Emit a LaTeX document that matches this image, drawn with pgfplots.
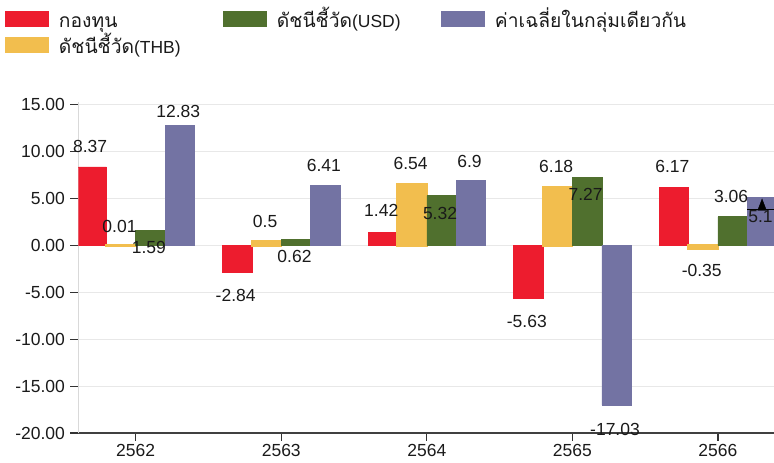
\documentclass[border=0pt]{standalone}
\usepackage{fontspec}
\setmainfont{Liberation Sans}
\newfontfamily\thai[Script=Thai, Scale=1.1]{Loma}
\usepackage{pgfplots}
\pgfplotsset{compat=1.18}
\usepackage{pgfplotstable}
\definecolor{cRed}{HTML}{ED1C2E}
\definecolor{cYel}{HTML}{F2BE4E}
\definecolor{cGrn}{HTML}{50702E}
\definecolor{cPur}{HTML}{7373A3}
\definecolor{txt}{HTML}{1A1A1A}
\definecolor{gridc}{HTML}{E8E8E8}
\newcommand\lbl{\fontsize{17.5}{20}\selectfont}

\pgfplotstableread{
x y dy lab
0 8.37 20 8.37
1 -2.84 -23 -2.84
2 1.42 21.3 1.42
3 -5.63 -23.6 -5.63
4 6.17 20.7 6.17
}\tRed
\pgfplotstableread{
x y dy lab
0 0.01 19 0.01
1 0.5 19 0.5
2 6.54 20.7 6.54
3 6.18 20.6 6.18
4 -0.35 -21.4 -0.35
}\tYel
\pgfplotstableread{
x y dy lab
0 1.59 -17 1.59
1 0.62 -17 0.62
2 5.32 -17.6 5.32
3 7.27 -17 7.27
4 3.06 20 3.06
}\tGrn
\pgfplotstableread{
x y dy lab
0 12.83 14 12.83
1 6.41 20 6.41
2 6.9 19 6.9
3 -17.03 -24 -17.03
4 5.1 -18.5 5.1
}\tPur

\pgfplotsset{
  legbox/.style={legend image code/.code={\fill[##1, draw=none] (0pt,-4pt) rectangle (44pt,12pt);}},
  barstyle/.style={ybar, bar width=0.202, bar shift=#1, forget plot,
    line width=0.6pt,
    point meta=explicit symbolic, nodes near coords,
    visualization depends on={\thisrow{dy} \as \dy},
    nodes near coords style={anchor=center, xshift={#1*145.56pt-1.5pt}, yshift=\dy pt, font=\lbl, text=txt, inner sep=0pt}},
}

\begin{document}
\begin{tikzpicture}
\begin{axis}[
  name=ax,
  scale only axis, width=695.5pt, height=331pt,
  xmin=-0.393, xmax=4.385, ymin=-20, ymax=15.3,
  axis x line*=bottom, axis y line*=left,
  x axis line style={draw=black!75, line width=1.5pt},
  y axis line style={draw=black!15, line width=1pt},
  xtick={0,1,2,3,4}, xticklabels={2562,2563,2564,2565,2566},
  ytick={-20,-15,...,15},
  tick align=outside, major tick length=8pt,
  tick style={draw=black!80, line width=1.2pt},
  ymajorgrids, grid style={draw=gridc, line width=1.2pt},
  yticklabel style={/tikz/xshift=-2pt, /pgf/number format/.cd, fixed, zerofill, precision=2, assume math mode=true},
  tick label style={font=\lbl, text=txt},
  legend style={draw=none, fill=none, inner sep=0pt, outer sep=0pt,
    at={(-0.1057,1.275)}, anchor=north west,
    legend columns=3, row sep=5pt,
    nodes={inner sep=0pt, text width=164pt, text height=14pt, text depth=4pt, align=left, font=\lbl, text=txt},
    /tikz/every odd column/.append style={column sep=10pt}},
]
\addplot[barstyle=-0.303, fill=cRed, draw=cRed] table[x=x, y=y, meta=lab] {\tRed};
\addplot[barstyle=-0.101, fill=cYel, draw=cYel, line width=2.2pt] table[x=x, y=y, meta=lab] {\tYel};
\addplot[barstyle=0.101, fill=cGrn, draw=cGrn] table[x=x, y=y, meta=lab] {\tGrn};
\addplot[barstyle=0.303, fill=cPur, draw=cPur] table[x=x, y=y, meta=lab] {\tPur};
\addplot[black, line width=1.5pt, forget plot] coordinates {(4.202,3.84) (4.41,3.84)};
\addplot[only marks, mark=triangle*, mark size=5pt, mark options={yscale=1.5}, black, forget plot] coordinates {(4.303,4.15)};
\addlegendimage{legbox, fill=cRed}
\addlegendentry{{\thai กองทุน}}
\addlegendimage{legbox, fill=cGrn}
\addlegendentry{{\thai ดัชนีชี้วัด}(USD)}
\addlegendimage{legbox, fill=cPur}
\addlegendentry{{\thai ค่าเฉลี่ยในกลุ่มเดียวกัน}}
\addlegendimage{legbox, fill=cYel}
\addlegendentry{{\thai ดัชนีชี้วัด}(THB)}
\end{axis}
\pgfresetboundingbox
\path[use as bounding box] (ax.south west) ++(-78.5pt,-30pt) rectangle ++(774pt,463pt);
\end{tikzpicture}
\end{document}
